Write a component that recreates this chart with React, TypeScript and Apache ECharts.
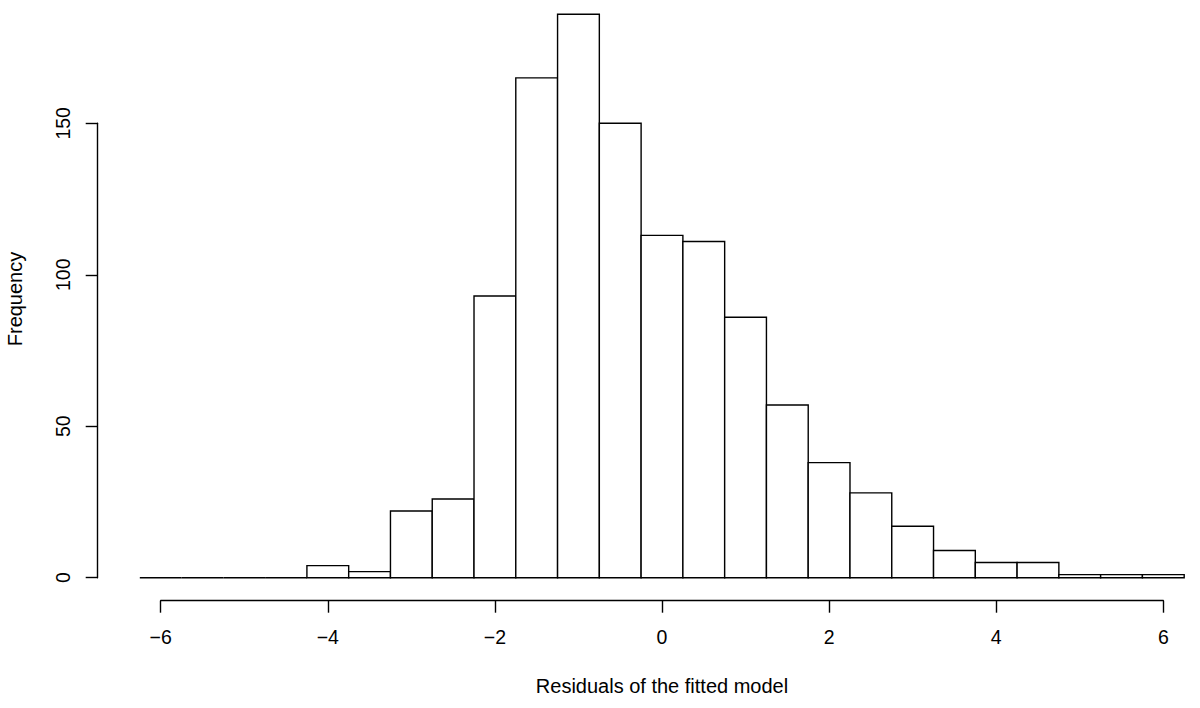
import React, { useEffect, useRef } from "react";
import * as echarts from "echarts";

// Histogram bin edges (residual values)
const binEdges = [
  -6.25, -5.75, -5.25, -4.75, -4.25, -3.75, -3.25, -2.75, -2.25, -1.75, -1.25,
  -0.75, -0.25, 0.25, 0.75, 1.25, 1.75, 2.25, 2.75, 3.25, 3.75, 4.25, 4.75,
  5.25, 5.75, 6.25,
];
// Frequencies per bin
const counts = [
  0, 0, 0, 0, 4, 2, 22, 26, 93, 165, 186, 150, 113, 111, 86, 57, 38, 28, 17, 9,
  5, 5, 1, 1, 1,
];
// Axis ticks
const xTickMin = -6;
const xTickMax = 6;
const xTickStep = 2;
const yTickMin = 0;
const yTickMax = 150;
const yTickStep = 50;

const xTitle = "Residuals of the fitted model";
const yTitle = "Frequency";

const FONT = '"Liberation Sans", Arial, Helvetica, sans-serif';
const FS = 19.5;
const TFS = 20;
const W = 1200;
const H = 708;
const X0 = 662; // pixel of x = 0
const PX_X = 83.55; // pixels per x unit
const Y0 = 577.7; // pixel of y = 0
const PX_Y = 3.0293; // pixels per frequency unit
const PLOT_LEFT = 97.7;
const XAXIS_Y = 600.7;
const LW = 1.4;

export default function App() {
  const ref = useRef<HTMLDivElement>(null);
  useEffect(() => {
    if (!ref.current) return;
    const chart = echarts.init(ref.current, undefined, { renderer: "svg" });
    const data = counts.map((c, i) => [binEdges[i], binEdges[i + 1], c]);
    const mainXMin = (PLOT_LEFT - X0) / PX_X;
    const mainXMax = (W - X0) / PX_X;
    const mainYMax = Y0 / PX_Y;
    const axisStyle = { color: "#000", width: LW };
    const labelStyle = { color: "#000", fontSize: FS, fontFamily: FONT };
    const minus = (v: number) => String(v).replace("-", "\u2212");
    chart.setOption({
      animation: false,
      backgroundColor: "#fff",
      grid: [
        { left: PLOT_LEFT, right: 0, top: 0, bottom: H - Y0 },
        {
          left: X0 + xTickMin * PX_X,
          right: W - (X0 + xTickMax * PX_X),
          top: XAXIS_Y - 10,
          bottom: H - XAXIS_Y,
        },
        {
          left: PLOT_LEFT,
          width: 50,
          top: Y0 - yTickMax * PX_Y,
          bottom: H - Y0,
        },
      ],
      xAxis: [
        { type: "value", gridIndex: 0, min: mainXMin, max: mainXMax, show: false },
        {
          type: "value",
          gridIndex: 1,
          min: xTickMin,
          max: xTickMax,
          interval: xTickStep,
          axisLine: { show: true, lineStyle: axisStyle },
          axisTick: { show: true, inside: false, length: 12, lineStyle: axisStyle },
          axisLabel: { ...labelStyle, margin: 26.5, formatter: minus },
          splitLine: { show: false },
        },
        { type: "value", gridIndex: 2, min: 0, max: 1, show: false },
      ],
      yAxis: [
        { type: "value", gridIndex: 0, min: 0, max: mainYMax, show: false },
        { type: "value", gridIndex: 1, min: 0, max: 1, show: false },
        {
          type: "value",
          gridIndex: 2,
          position: "left",
          min: yTickMin,
          max: yTickMax,
          interval: yTickStep,
          axisLine: { show: true, lineStyle: axisStyle },
          axisTick: { show: true, inside: false, length: 12, lineStyle: axisStyle },
          axisLabel: { ...labelStyle, margin: 25, rotate: 90 },
          splitLine: { show: false },
        },
      ],
      series: [
        {
          type: "custom",
          xAxisIndex: 0,
          yAxisIndex: 0,
          encode: { x: [0, 1], y: 2 },
          data,
          renderItem: (_params: any, api: any) => {
            const x0 = api.value(0);
            const x1 = api.value(1);
            const c = api.value(2);
            const p0 = api.coord([x0, 0]);
            const p1 = api.coord([x1, c]);
            if (c === 0) {
              return {
                type: "line",
                shape: { x1: p0[0], y1: p0[1], x2: p1[0], y2: p0[1] },
                style: { stroke: "#000", lineWidth: LW },
              };
            }
            return {
              type: "rect",
              shape: {
                x: p0[0],
                y: p1[1],
                width: p1[0] - p0[0],
                height: p0[1] - p1[1],
              },
              style: { fill: "#fff", stroke: "#000", lineWidth: LW },
            };
          },
        },
      ],
      graphic: [
        {
          type: "text",
          x: X0,
          y: 685.5,
          style: {
            text: xTitle,
            fill: "#000",
            fontSize: TFS,
            fontFamily: FONT,
            align: "center",
            verticalAlign: "middle",
          },
        },
        {
          type: "text",
          x: 15,
          y: 299,
          rotation: Math.PI / 2,
          style: {
            text: yTitle,
            fill: "#000",
            fontSize: TFS,
            fontFamily: FONT,
            align: "center",
            verticalAlign: "middle",
          },
        },
      ],
    });
    return () => chart.dispose();
  }, []);
  return (
    <div
      ref={ref}
      style={{ position: "absolute", left: 0, top: 0, width: W, height: H }}
    />
  );
}
